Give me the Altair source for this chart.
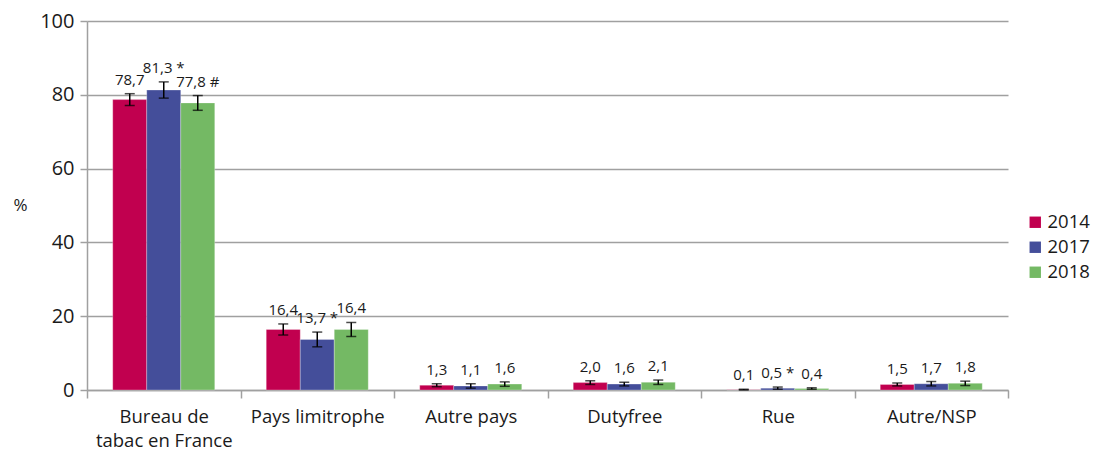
import altair as alt
import pandas as pd

categories = ["Bureau de tabac en France", "Pays limitrophe", "Autre pays", "Dutyfree", "Rue", "Autre/NSP"]
years = ["2014", "2017", "2018"]
values_2014 = [78.7, 16.4, 1.3, 2.0, 0.1, 1.5]
values_2017 = [81.3, 13.7, 1.1, 1.6, 0.5, 1.7]
values_2018 = [77.8, 16.4, 1.6, 2.1, 0.4, 1.8]
err_2014 = [1.6, 1.5, 0.4, 0.5, 0.1, 0.4]
err_2017 = [2.2, 2.0, 0.6, 0.5, 0.3, 0.6]
err_2018 = [2.0, 1.9, 0.6, 0.6, 0.2, 0.6]
marks_2014 = ["", "", "", "", "", ""]
marks_2017 = ["*", "*", "", "", "*", ""]
marks_2018 = ["#", "", "", "", "", ""]
colors = ["#c1004f", "#444e9a", "#74b964"]

rows = []
for yr, vals, errs, mks in [("2014", values_2014, err_2014, marks_2014),
                            ("2017", values_2017, err_2017, marks_2017),
                            ("2018", values_2018, err_2018, marks_2018)]:
    for c, v, e, m in zip(categories, vals, errs, mks):
        rows.append({"cat": c, "year": yr, "value": v, "lo": max(v - e, 0), "hi": v + e,
                     "label": f"{v:.1f}".replace(".", ",") + (" " + m if m else "")})
df = pd.DataFrame(rows)

FONT = "Open Sans"
TXT = "#1a1a1a"

x = alt.X("cat:N", sort=categories, title=None,
          scale=alt.Scale(paddingInner=0, paddingOuter=0),
          axis=alt.Axis(tickBand="extent", labelAngle=0, labelFontSize=18.5, labelFont=FONT,
                        labelColor=TXT, domainColor="#a0a0a0", domainWidth=1.5,
                        tickColor="#a0a0a0", tickWidth=1.5, tickSize=8, labelPadding=9,
                        labelLineHeight=24,
                        labelExpr="datum.label == 'Bureau de tabac en France' ? ['Bureau de', 'tabac en France'] : datum.label"))
xo = alt.XOffset("year:N", sort=years, scale=alt.Scale(paddingInner=0, paddingOuter=0.757))

base = alt.Chart(df)

bars = base.mark_bar(stroke="white", strokeOpacity=0.35, strokeWidth=0.8).encode(
    x=x, xOffset=xo,
    y=alt.Y("value:Q", scale=alt.Scale(domain=[0, 100]), title="%",
            axis=alt.Axis(values=[0, 20, 40, 60, 80, 100], labelFontSize=20, labelFont=FONT,
                          labelColor=TXT, gridColor="#a0a0a0", gridWidth=1.5,
                          domainColor="#a0a0a0", domainWidth=1.5, tickColor="#a0a0a0",
                          tickWidth=1.5, tickSize=7, labelPadding=6,
                          titleAngle=0, titleFontSize=17, titleFont=FONT, titleFontWeight="normal",
                          titleColor=TXT, titleX=-67, titleY=184, titleAlign="center",
                          titleBaseline="middle")),
    color=alt.Color("year:N", sort=years, scale=alt.Scale(domain=years, range=colors),
                    legend=alt.Legend(title=None, orient="none", legendX=939, legendY=192,
                                      symbolType="square", symbolSize=130, symbolStrokeWidth=0,
                                      labelFontSize=18.5, labelFont=FONT, labelColor=TXT,
                                      rowPadding=6, labelOffset=3)),
)

rules = base.mark_rule(color="black", strokeWidth=1.5).encode(
    x=x, xOffset=xo, y="lo:Q", y2="hi:Q")
cap_hi = base.mark_tick(color="black", thickness=1.5, size=10).encode(x=x, xOffset=xo, y="hi:Q")
cap_lo = base.mark_tick(color="black", thickness=1.5, size=10).encode(x=x, xOffset=xo, y="lo:Q")

labels = base.mark_text(baseline="bottom", dy=-6, fontSize=15, font=FONT, color=TXT).encode(
    x=x, xOffset=xo, y="hi:Q", text="label:N")

chart = alt.layer(bars, rules, cap_hi, cap_lo, labels).properties(
    width=921, height=369,
    autosize=alt.AutoSizeParams(type="none"),
    padding={"left": 79, "top": 13, "right": 87, "bottom": 60},
).configure_view(stroke=None)

chart.save("out.html", embed_options={"renderer": "svg", "actions": False})
